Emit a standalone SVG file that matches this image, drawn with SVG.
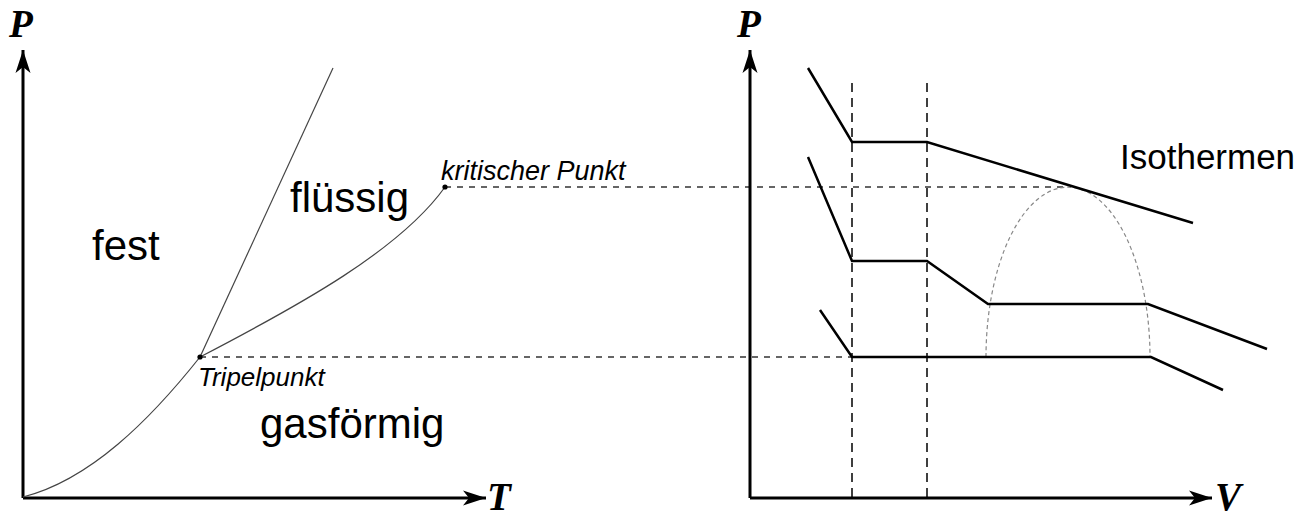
<svg xmlns="http://www.w3.org/2000/svg" width="1311" height="516" viewBox="0 0 1311 516">
<style>
.axis{stroke:#000;stroke-width:3;fill:none}
.phase{stroke:#444;stroke-width:1.2;fill:none}
.iso{stroke:#000;stroke-width:2.5;fill:none;stroke-linejoin:miter}
.hdash{stroke:#333;stroke-width:1.5;stroke-dasharray:6 6;fill:none}
.vdash{stroke:#000;stroke-width:1.5;stroke-dasharray:9 6;fill:none}
.dome{stroke:#888;stroke-width:1.2;stroke-dasharray:4 3;fill:none}
.axlabel{font-family:"Liberation Serif","Times New Roman",serif;font-weight:bold;font-style:italic;font-size:39px;fill:#000}
.region{font-family:"Liberation Sans",Arial,sans-serif;font-size:42px;fill:#000}
.small{font-family:"Liberation Sans",Arial,sans-serif;font-style:italic;font-size:26px;fill:#000}
</style>
<defs>
<marker id="arr" markerUnits="userSpaceOnUse" markerWidth="30" markerHeight="20" viewBox="-24 -10 26 20" refX="0" refY="0" orient="auto">
<path d="M0,0 L-23,-7.5 L-17,0 L-23,7.5 Z" fill="#000"/>
</marker>
</defs>
<rect width="1311" height="516" fill="#fff"/>
<g id="connectors">
<path class="hdash" d="M200,357 L852,357"/>
<path class="hdash" d="M445,187 L1067,187"/>
</g>
<g id="pt-diagram">
<g id="pt-axes">
<path class="axis" d="M23,498 L23,50" marker-end="url(#arr)"/>
<path class="axis" d="M23,498 L486,498" marker-end="url(#arr)"/>
<text class="axlabel" x="9" y="37">P</text>
<text class="axlabel" x="487" y="510">T</text>
</g>
<g id="sublimation"><path class="phase" d="M23,497 C90,480 150,420 200,357"/></g>
<g id="melting"><path class="phase" d="M200,357 L333,68"/></g>
<g id="vaporization"><path class="phase" d="M200,357 C300,305 400,250 445,187"/></g>
<g id="tripelpunkt">
<circle cx="200" cy="357" r="2.6" fill="#000"/>
<text class="small" x="198" y="386">Tripelpunkt</text>
</g>
<g id="kritischer-punkt">
<circle cx="445" cy="187" r="2.6" fill="#000"/>
<text class="small" style="font-size:27px" x="441" y="180">kritischer Punkt</text>
</g>
<g id="fest"><text class="region" x="92" y="260">fest</text></g>
<g id="fluessig"><text class="region" x="290" y="212">flüssig</text></g>
<g id="gasfoermig"><text class="region" x="260" y="438">gasförmig</text></g>
</g>
<g id="pv-diagram">
<g id="pv-axes">
<path class="axis" d="M750,498 L750,50" marker-end="url(#arr)"/>
<path class="axis" d="M750,498 L1212,498" marker-end="url(#arr)"/>
<text class="axlabel" x="737" y="37">P</text>
<text class="axlabel" x="1215" y="510">V</text>
</g>
<g id="guides">
<path class="vdash" d="M852,83 L852,498"/>
<path class="vdash" d="M927,83 L927,498"/>
</g>
<g id="dome"><path class="dome" d="M986,357 A82,170 0 0 1 1150,357"/></g>
<g id="isotherm-1"><path class="iso" d="M808,68 L852,142 L927,142 L1193,223"/></g>
<g id="isotherm-2"><path class="iso" d="M808,157 L852,261 L927,261 L988,304 L1148,304 L1267,349"/></g>
<g id="isotherm-3"><path class="iso" d="M820,310 L852,357 L1151,357 L1223,390"/></g>
<g id="isothermen-label"><text class="region" style="font-size:35px" x="1120" y="169">Isothermen</text></g>
</g>
</svg>
